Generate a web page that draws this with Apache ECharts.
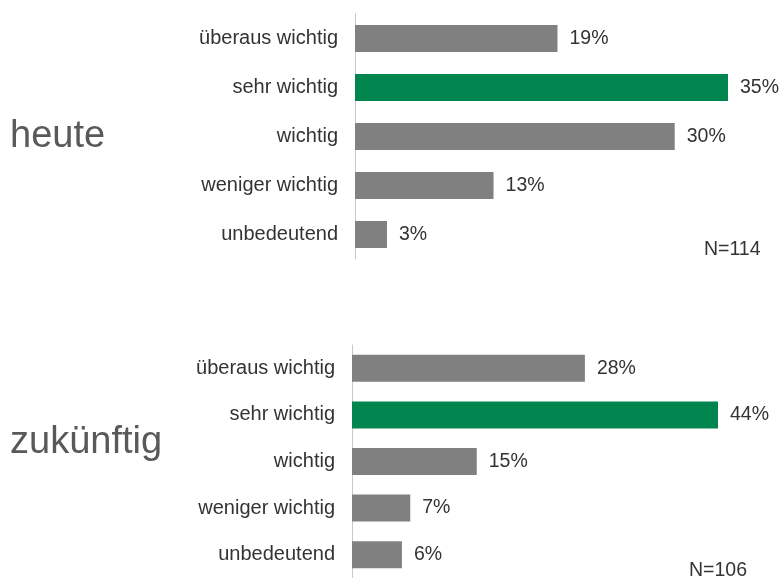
<!DOCTYPE html>
<html><head><meta charset="utf-8">
<script src="https://cdn.jsdelivr.net/npm/echarts@6/dist/echarts.min.js"></script>
<style>html,body{margin:0;padding:0;background:#fff}#c{width:781px;height:578px}</style>
</head><body><div id="c"></div>
<script>
const categories = ['überaus wichtig', 'sehr wichtig', 'wichtig', 'weniger wichtig', 'unbedeutend'];
const heuteValues = [19, 35, 30, 13, 3];
const zukuenftigValues = [28, 44, 15, 7, 6];
const highlightIndex = 1;
const panelTitles = ['heute', 'zukünftig'];
const sampleSizes = ['N=114', 'N=106'];

const FONT = '"Liberation Sans", Arial, sans-serif';
const GRAY = '#808080';
const GREEN = '#00854f';

function barData(vals) {
  return vals.map((v, i) => ({ value: v, itemStyle: { color: i === highlightIndex ? GREEN : GRAY } }));
}

const chart = echarts.init(document.getElementById('c'));
chart.setOption({
  animation: false,
  backgroundColor: '#fff',
  textStyle: { fontFamily: FONT },
  grid: [
    { left: 355, top: 14, width: 373, height: 245 },
    { left: 352, top: 345, width: 366, height: 240 }
  ],
  xAxis: [
    { gridIndex: 0, type: 'value', min: 0, max: 35, show: false },
    { gridIndex: 1, type: 'value', min: 0, max: 44, show: false }
  ],
  yAxis: [0, 1].map(g => ({
    gridIndex: g, type: 'category', data: categories, inverse: true,
    axisLine: { show: true, lineStyle: { color: '#c8c8c8', width: 1 } },
    axisTick: { show: false },
    splitLine: { show: false },
    axisLabel: { color: '#333', fontSize: 20, fontFamily: FONT, margin: 17 }
  })),
  series: [
    { type: 'bar', xAxisIndex: 0, yAxisIndex: 0, data: barData(heuteValues), barWidth: 27,
      label: { show: true, position: 'right', distance: 12, formatter: '{c}%', color: '#333', fontSize: 19.5, fontFamily: FONT } },
    { type: 'bar', xAxisIndex: 1, yAxisIndex: 1, data: barData(zukuenftigValues), barWidth: 27,
      label: { show: true, position: 'right', distance: 12, formatter: '{c}%', color: '#333', fontSize: 19.5, fontFamily: FONT } }
  ],
  graphic: [
    { type: 'text', left: 10, top: 118, style: { text: panelTitles[0], fontSize: 38, fontFamily: FONT, fill: '#595959' } },
    { type: 'text', left: 10, top: 424, style: { text: panelTitles[1], fontSize: 38, fontFamily: FONT, fill: '#595959' } },
    { type: 'text', left: 704, top: 240, style: { text: sampleSizes[0], fontSize: 19.5, fontFamily: FONT, fill: '#333' } },
    { type: 'text', left: 689, top: 561, style: { text: sampleSizes[1], fontSize: 19.5, fontFamily: FONT, fill: '#333' } }
  ]
});
</script></body></html>
